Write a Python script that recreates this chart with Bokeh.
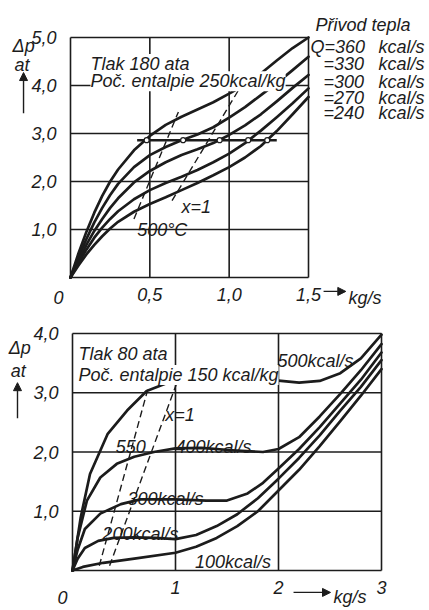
from bokeh.plotting import figure
from bokeh.models import Range1d, FixedTicker, Label, Arrow, NormalHead
from bokeh.layouts import column
from bokeh.embed import file_html
from bokeh.resources import INLINE

# ---------------- data: upper panel (Tlak 180 ata) ----------------
top_x = [0, 0.05, 0.1, 0.15, 0.2, 0.25, 0.3, 0.4, 0.5, 0.6, 0.7, 0.8, 0.9, 1.0, 1.1, 1.2, 1.3, 1.4, 1.5]
top_q360 = [0, 0.50, 0.95, 1.35, 1.70, 2.00, 2.25, 2.65, 2.95, 3.18, 3.35, 3.50, 3.65, 3.83, 4.02, 4.25, 4.52, 4.78, 5.00]
top_q330 = [0, 0.42, 0.80, 1.15, 1.45, 1.72, 1.95, 2.30, 2.55, 2.72, 2.86, 2.98, 3.13, 3.33, 3.55, 3.80, 4.05, 4.32, 4.60]
top_q300 = [0, 0.35, 0.68, 0.97, 1.22, 1.45, 1.65, 1.98, 2.22, 2.40, 2.55, 2.67, 2.80, 2.97, 3.17, 3.40, 3.67, 3.95, 4.22]
top_q270 = [0, 0.30, 0.58, 0.83, 1.04, 1.22, 1.38, 1.63, 1.82, 1.97, 2.10, 2.24, 2.40, 2.58, 2.80, 3.06, 3.34, 3.63, 3.94]
top_q240 = [0, 0.25, 0.48, 0.68, 0.86, 1.02, 1.16, 1.37, 1.53, 1.67, 1.82, 1.97, 2.13, 2.30, 2.50, 2.74, 3.05, 3.40, 3.76]
top_series = [top_q360, top_q330, top_q300, top_q270, top_q240]
top_q_labels = ["Q=360", "=330", "=300", "=270", "=240"]

top_hline_x = [0.42, 1.30]
top_hline_y = [2.86, 2.86]
top_circle_x = [0.48, 0.71, 0.94, 1.12, 1.24]

top_500C_x = [0.40, 0.68]
top_500C_y = [1.22, 3.45]
top_x1_x = [0.64, 1.08]
top_x1_y = [1.60, 4.02]

top_xticks = [0, 0.5, 1.0, 1.5]
top_xlabels = ["", "0,5", "1,0", "1,5"]
top_yticks = [0, 1, 2, 3, 4, 5]
top_ylabels = ["", "1,0", "2,0", "3,0", "4,0", "5,0"]

# ---------------- data: lower panel (Tlak 80 ata) ----------------
b500_x = [0, 0.08, 0.17, 0.34, 0.53, 0.72, 1.0, 1.3, 1.6, 1.9, 2.2, 2.4, 2.6, 2.8, 3.0]
b500_y = [0, 0.90, 1.63, 2.30, 2.70, 3.03, 3.22, 3.28, 3.28, 3.22, 3.17, 3.20, 3.33, 3.58, 3.98]
b400_x = [0, 0.05, 0.14, 0.27, 0.43, 0.6, 0.79, 1.0, 1.25, 1.55, 1.85, 2.0, 2.2, 2.4, 2.6, 2.8, 3.0]
b400_y = [0, 0.55, 1.18, 1.57, 1.80, 1.92, 2.00, 2.06, 2.07, 2.03, 2.00, 2.05, 2.25, 2.60, 2.98, 3.38, 3.82]
b300_x = [0, 0.05, 0.12, 0.27, 0.47, 0.66, 1.0, 1.3, 1.5, 1.7, 1.85, 2.0, 2.2, 2.4, 2.6, 2.8, 3.0]
b300_y = [0, 0.35, 0.70, 0.96, 1.12, 1.20, 1.20, 1.18, 1.18, 1.30, 1.48, 1.72, 2.05, 2.42, 2.82, 3.22, 3.68]
b200_x = [0, 0.05, 0.12, 0.25, 0.4, 0.6, 0.8, 1.0, 1.2, 1.4, 1.6, 1.8, 2.0, 2.2, 2.4, 2.6, 2.8, 3.0]
b200_y = [0, 0.20, 0.38, 0.50, 0.55, 0.56, 0.55, 0.53, 0.60, 0.75, 0.95, 1.22, 1.55, 1.90, 2.28, 2.70, 3.10, 3.55]
b100_x = [0, 0.1, 0.3, 0.6, 1.0, 1.2, 1.4, 1.6, 1.8, 2.0, 2.2, 2.4, 2.6, 2.8, 3.0]
b100_y = [0, 0.06, 0.13, 0.20, 0.30, 0.40, 0.55, 0.75, 1.00, 1.35, 1.70, 2.10, 2.52, 2.95, 3.40]
bottom_series = [(b500_x, b500_y), (b400_x, b400_y), (b300_x, b300_y), (b200_x, b200_y), (b100_x, b100_y)]

b550_x = [0.26, 0.73]
b550_y = [0.08, 3.05]
bx1_x = [0.36, 1.02]
bx1_y = [0.08, 3.20]

bot_xticks = [0, 1, 2, 3]
bot_xlabels = ["", "1", "2", "3"]
bot_yticks = [0, 1, 2, 3, 4]
bot_ylabels = ["", "1,0", "2,0", "3,0", "4,0"]

INK = "#1c1c1c"
FONT = "Liberation Sans"
W = 429


def make_fig(h, box_left, box_right, box_top, box_bottom, xmax, ymax):
    # frame fills the whole canvas; the drawn box sits at the given pixel edges
    kx = (box_right - box_left) / xmax
    ky = (box_bottom - box_top) / ymax
    p = figure(width=W, height=h, output_backend="svg", toolbar_location=None,
               x_range=Range1d(-box_left / kx, (W - box_left) / kx),
               y_range=Range1d(-(h - box_bottom) / ky, box_bottom / ky),
               min_border=0, min_border_left=0, min_border_right=0,
               min_border_top=0, min_border_bottom=0)
    p.grid.visible = False
    p.outline_line_color = None
    p.background_fill_color = "white"
    p.border_fill_color = "white"
    return p


def style_axes(p, xt, xl, yt, yl):
    p.xaxis.fixed_location = 0
    p.yaxis.fixed_location = 0
    p.xaxis.ticker = FixedTicker(ticks=xt)
    p.yaxis.ticker = FixedTicker(ticks=yt)
    p.xaxis.major_label_overrides = {t: l for t, l in zip(xt, xl)}
    p.yaxis.major_label_overrides = {t: l for t, l in zip(yt, yl)}
    for ax in (p.xaxis[0], p.yaxis[0]):
        ax.axis_line_color = None
        ax.major_tick_line_color = None
        ax.minor_tick_line_color = None
        ax.major_label_text_font = FONT
        ax.major_label_text_font_style = "italic"
        ax.major_label_text_font_size = "18px"
        ax.major_label_text_color = INK
    p.xaxis.major_label_standoff = 4
    p.yaxis.major_label_standoff = 8
    # box and grid from the tick arrays
    n, m = len(xt), len(yt)
    p.segment(x0=xt, y0=[yt[0]] * n, x1=xt, y1=[yt[-1]] * n, line_color=INK, line_width=1.6)
    p.segment(x0=[xt[0]] * m, y0=yt, x1=[xt[-1]] * m, y1=yt, line_color=INK, line_width=1.6)


def lab(p, x, y, text, size=18, align="left", bg=False):
    l = Label(x=x, y=y, text=text, text_font=FONT, text_font_size=f"{size}px",
              text_font_style="italic", text_color=INK, text_align=align,
              text_baseline="alphabetic")
    if bg:
        l.background_fill_color = "white"
    p.add_layout(l)


def arrow(p, x0, y0, x1, y1):
    p.add_layout(Arrow(end=NormalHead(size=8, fill_color=INK, line_color=INK),
                       x_start=x0, y_start=y0, x_end=x1, y_end=y1,
                       line_color=INK, line_width=1.4))


# ---------------- upper figure ----------------
H1, H2 = 312, 298
p1 = make_fig(H1, 70, 308, 37, 277, top_xticks[-1], top_yticks[-1])
style_axes(p1, top_xticks, top_xlabels, top_yticks, top_ylabels)

for ys in top_series:
    p1.line(top_x, ys, line_color=INK, line_width=2.7, line_join="round", line_cap="round")
p1.line(top_500C_x, top_500C_y, line_color=INK, line_width=1.4, line_dash="7 4")
p1.line(top_x1_x, top_x1_y, line_color=INK, line_width=1.4, line_dash="7 4")
p1.line(top_hline_x, top_hline_y, line_color=INK, line_width=2.4)
p1.scatter(top_circle_x, [top_hline_y[0]] * len(top_circle_x), size=5, marker="circle",
           fill_color="white", line_color=INK, line_width=1.2)

lab(p1, 0.126, 4.45, "Tlak 180 ata", bg=True)
lab(p1, 0.126, 4.09, "Poč. entalpie 250kcal/kg", bg=True)
lab(p1, 0.70, 1.46, "x=1")
lab(p1, 0.42, 1.00, "500°C")
lab(p1, -0.365, 4.83, "Δp")
lab(p1, -0.353, 4.42, "at")
arrow(p1, -0.296, 3.42, -0.296, 4.27)
lab(p1, -0.076, -0.42, "0", align="center")
arrow(p1, 1.595, -0.29, 1.735, -0.29)
lab(p1, 1.752, -0.42, "kg/s")
lab(p1, 1.544, 5.27, "Přivod tepla")
legend_y = [4.81, 4.44, 4.08, 3.75, 3.42]
for i, (t, yy) in enumerate(zip(top_q_labels, legend_y)):
    lab(p1, 1.513 if i == 0 else 1.594, yy, t)
    lab(p1, 1.941, yy, "kcal/s")

# ---------------- lower figure ----------------
p2 = make_fig(H2, 72, 381, 333 - H1, 570 - H1, bot_xticks[-1], bot_yticks[-1])
style_axes(p2, bot_xticks, bot_xlabels, bot_yticks, bot_ylabels)

for xs, ys in bottom_series:
    p2.line(xs, ys, line_color=INK, line_width=2.7, line_join="round", line_cap="round")
p2.line(b550_x, b550_y, line_color=INK, line_width=1.4, line_dash="7 4")
p2.line(bx1_x, bx1_y, line_color=INK, line_width=1.4, line_dash="7 4")

lab(p2, 0.058, 3.65, "Tlak 80 ata", bg=True)
lab(p2, 0.058, 3.30, "Poč. entalpie 150 kcal/kg", bg=True)
lab(p2, 1.99, 3.53, "500kcal/s")
lab(p2, 0.90, 2.62, "x=1")
lab(p2, 0.42, 2.09, "550")
lab(p2, 1.00, 2.09, "400kcal/s")
lab(p2, 0.534, 1.20, "300kcal/s")
lab(p2, 0.29, 0.61, "200kcal/s")
lab(p2, 1.19, 0.15, "100kcal/s")
lab(p2, -0.62, 3.75, "Δp")
lab(p2, -0.60, 3.36, "at")
arrow(p2, -0.534, 2.57, -0.534, 3.17)
lab(p2, -0.097, -0.456, "0", align="center")
arrow(p2, 2.146, -0.37, 2.505, -0.37)
lab(p2, 2.534, -0.44, "kg/s")

layout = column(p1, p2, spacing=0)
open("out.html", "w").write(file_html(layout, INLINE))
